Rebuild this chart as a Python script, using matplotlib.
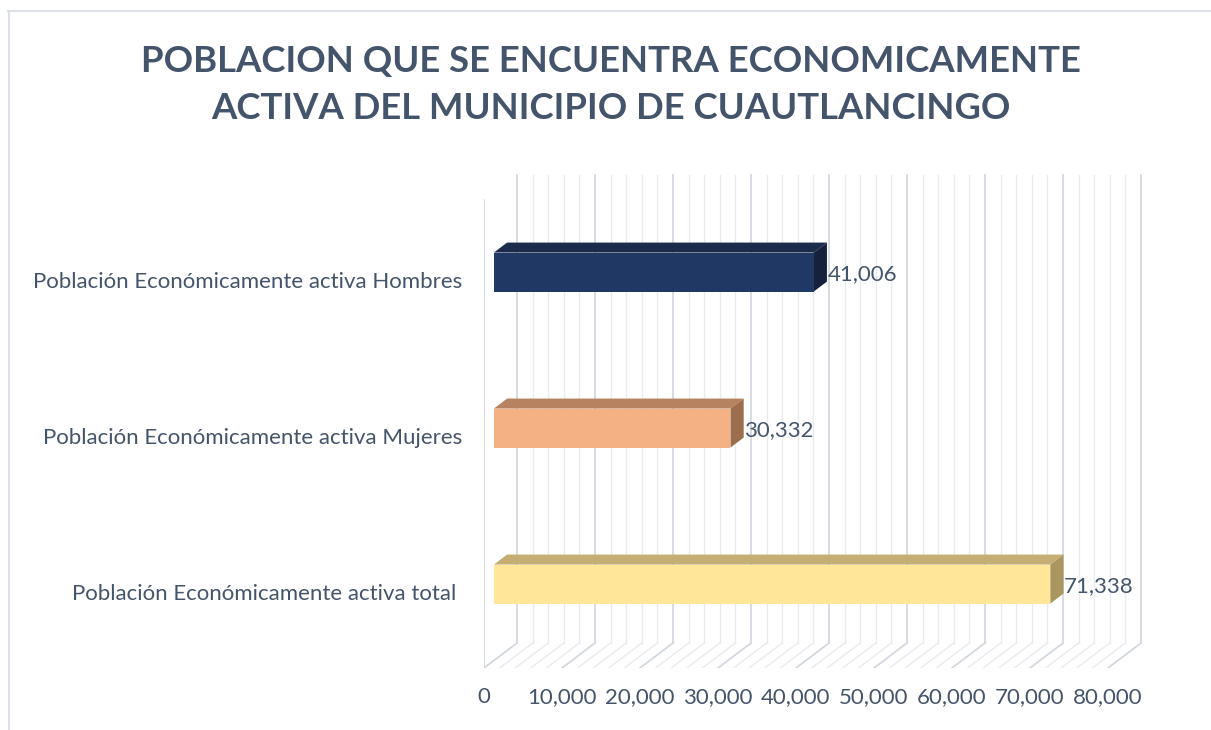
import matplotlib
matplotlib.use('Agg')
import matplotlib.pyplot as plt
from matplotlib.patches import Polygon
from matplotlib.lines import Line2D

# datos
categorias = ['Población Económicamente activa total ',
              'Población Económicamente activa Mujeres',
              'Población Económicamente activa Hombres']
valores = [71338, 30332, 41006]
colores_frente = ['#FFE699', '#F4B183', '#203864']
colores_arriba = ['#C4AE74', '#B7825F', '#1B2B4B']
colores_lado = ['#A8965E', '#9C6E4E', '#16223D']
ticks_x = [0, 10000, 20000, 30000, 40000, 50000, 60000, 70000, 80000]
titulo = 'POBLACION QUE SE ENCUENTRA ECONOMICAMENTE\nACTIVA DEL MUNICIPIO DE CUAUTLANCINGO'

texto = '#44546A'
plt.rcParams['font.family'] = ['Lato', 'DejaVu Sans']

W, H = 1211, 730
fig = plt.figure(figsize=(W / 100, H / 100), dpi=100)

# ejes en pixeles: izquierda 484, abajo 668
px_por_10k = 78.0
ax_left, ax_right, ax_bottom, ax_top = 484, 1165, 668, 170
ax = fig.add_axes([ax_left / W, (H - ax_bottom) / H,
                   (ax_right - ax_left) / W, (ax_bottom - ax_top) / H])
px_cat = 156.0
piso = -0.49
ax.set_xlim(0, (ax_right - ax_left) * 10000 / px_por_10k)
ax.set_ylim(piso, piso + (ax_bottom - ax_top) / px_cat)

# profundidad (efecto 3D)
DX = 33 * 10000 / px_por_10k
DY = 25 / px_cat
techo = piso + (668 - 200) / px_cat


def P(x, y, d):
    return (x + d * DX, y + d * DY)


# paredes y piso
for x in range(0, 80001, 2000):
    mayor = x % 10000 == 0
    c = '#D3D8E0' if mayor else '#E8EBF0'
    lw = 1.3 if mayor else 1.0
    a, b = P(x, piso, 1), P(x, techo, 1)
    ax.plot([a[0], b[0]], [a[1], b[1]], color=c, lw=lw, zorder=1)
    f = P(x, piso, 0)
    ax.plot([f[0], a[0]], [f[1], a[1]], color=c, lw=lw, zorder=1)
ax.plot([0, 0], [piso, techo], color='#D3D8E0', lw=1.3, zorder=1)

# barras
h = 0.25
d0, d1 = 0.3, 0.7
for i, v in enumerate(valores):
    y0, y1 = i - h / 2, i + h / 2
    frente = [P(0, y0, d0), P(v, y0, d0), P(v, y1, d0), P(0, y1, d0)]
    arriba = [P(0, y1, d0), P(v, y1, d0), P(v, y1, d1), P(0, y1, d1)]
    lado = [P(v, y0, d0), P(v, y1, d0), P(v, y1, d1), P(v, y0, d1)]
    ax.add_patch(Polygon(arriba, closed=True, facecolor=colores_arriba[i], edgecolor='none', zorder=3))
    ax.add_patch(Polygon(lado, closed=True, facecolor=colores_lado[i], edgecolor='none', zorder=3))
    ax.add_patch(Polygon(frente, closed=True, facecolor=colores_frente[i], edgecolor='none', zorder=4))
    ax.text(v + d1 * DX + 80, i + d0 * DY - 0.01, f'{v:,}', fontsize=16, color=texto,
            ha='left', va='center', zorder=5)

ax.set_xticks(ticks_x)
ax.set_xticklabels([f'{t:,}' for t in ticks_x], fontsize=16, color=texto)
ax.set_yticks(range(len(categorias)))
ax.set_yticklabels(categorias, fontsize=16, color=texto)
ax.tick_params(axis='x', length=0, pad=14)
ax.tick_params(axis='y', length=0, pad=16)
for s in ax.spines.values():
    s.set_visible(False)
ax.patch.set_alpha(0)

fig.text(611 / W, 1 - 85 / H, titulo, ha='center', va='center', fontsize=26.3,
         fontweight='bold', color=texto, linespacing=1.5)

# borde del grafico
fig.add_artist(Line2D([8 / W, 1], [1 - 11 / H, 1 - 11 / H], color='#DCE0E8', lw=1.5))
fig.add_artist(Line2D([9 / W, 9 / W], [0, 1 - 11 / H], color='#DCE0E8', lw=1.5))

fig.savefig('out.png', dpi=100)
